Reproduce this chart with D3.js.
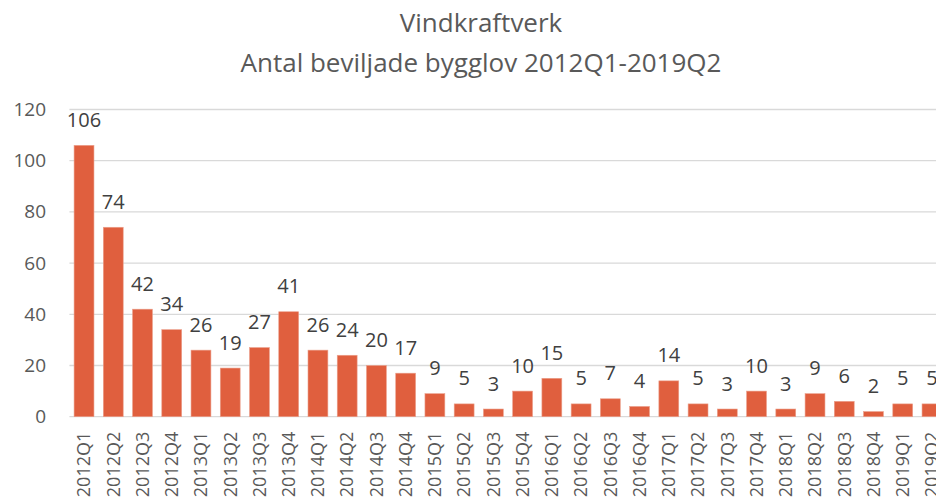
<!DOCTYPE html>
<html>
<head>
<meta charset="utf-8">
<script src="https://cdn.jsdelivr.net/npm/d3@7"></script>
<style>
  body { margin: 0; background: #fff; }
  svg { display: block; font-family: "Open Sans", sans-serif; }
</style>
</head>
<body>
<div id="chart"></div>
<script>
// data
var quarters = ['2012Q1','2012Q2','2012Q3','2012Q4','2013Q1','2013Q2','2013Q3','2013Q4',
  '2014Q1','2014Q2','2014Q3','2014Q4','2015Q1','2015Q2','2015Q3','2015Q4',
  '2016Q1','2016Q2','2016Q3','2016Q4','2017Q1','2017Q2','2017Q3','2017Q4',
  '2018Q1','2018Q2','2018Q3','2018Q4','2019Q1','2019Q2'];
var permits = [106,74,42,34,26,19,27,41,26,24,20,17,9,5,3,10,15,5,7,4,14,5,3,10,3,9,6,2,5,5];
var yTicks = [0,20,40,60,80,100,120];
var titleLines = ['Vindkraftverk', 'Antal beviljade bygglov 2012Q1-2019Q2'];

var width = 936, height = 499;
var chartC = { x0: 69.4, x1: 946.6, y0: 109.5, y1: 416.7 };
var textColor = '#595959';

var svg = d3.select('#chart').append('svg')
    .attr('width', width)
    .attr('height', height);

var x = d3.scaleBand()
    .domain(quarters)
    .range([chartC.x0, chartC.x1])
    .paddingInner(0.32)
    .paddingOuter(0.16);

var y = d3.scaleLinear()
    .domain([0, 120])
    .range([chartC.y1, chartC.y0]);

// title
svg.append('g').selectAll('text')
    .data(titleLines)
    .enter()
    .append('text')
    .attr('x', 481)
    .attr('y', (d, i) => 32 + i * 40)
    .attr('text-anchor', 'middle')
    .style('font-size', '26px')
    .style('fill', textColor)
    .text(d => d);

// gridlines
svg.append('g').selectAll('line')
    .data(yTicks)
    .enter()
    .append('line')
    .attr('x1', chartC.x0)
    .attr('x2', width)
    .attr('y1', d => y(d))
    .attr('y2', d => y(d))
    .style('stroke', '#d9d9d9')
    .style('stroke-width', 1.3);

// y axis labels
var yAxis = svg.append('g')
    .attr('transform', `translate(${46},0)`)
    .call(d3.axisLeft(y).tickValues(yTicks).tickSize(0).tickPadding(0));
yAxis.select('.domain').remove();
yAxis.selectAll('text')
    .style('font-family', '"Open Sans", sans-serif')
    .style('font-size', '19px')
    .style('fill', textColor);

// bars
svg.append('g').selectAll('rect')
    .data(permits)
    .enter()
    .append('rect')
    .attr('x', (d, i) => x(quarters[i]))
    .attr('y', d => y(d))
    .attr('width', x.bandwidth())
    .attr('height', d => chartC.y1 - y(d))
    .style('fill', '#e05f3e')
    .style('stroke', '#eba08c')
    .style('stroke-width', 0.6);

// value labels
svg.append('g').selectAll('text')
    .data(permits)
    .enter()
    .append('text')
    .attr('x', (d, i) => x(quarters[i]) + x.bandwidth() / 2)
    .attr('y', d => y(d) - 18.5)
    .attr('text-anchor', 'middle')
    .style('font-size', '20px')
    .style('fill', '#404040')
    .text(d => d);

// x axis
var xAxis = svg.append('g')
    .attr('transform', `translate(0,${chartC.y1})`)
    .call(d3.axisBottom(x).tickSize(0).tickPadding(0));
xAxis.select('.domain').remove();
xAxis.selectAll('text')
    .attr('transform', 'rotate(-90)')
    .attr('x', -15)
    .attr('y', 0)
    .attr('dy', '0.35em')
    .attr('text-anchor', 'end')
    .style('font-family', '"Open Sans", sans-serif')
    .style('font-size', '18px')
    .style('fill', textColor);
</script>
</body>
</html>
